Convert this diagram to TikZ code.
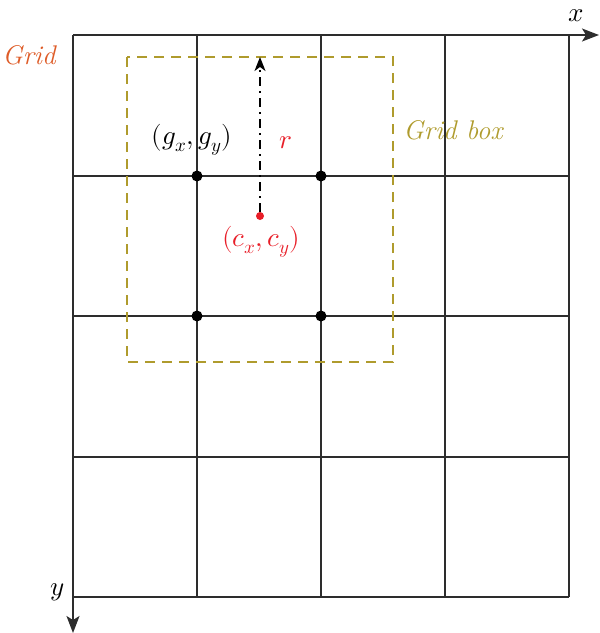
\documentclass[tikz,border=0pt]{standalone}
\usepackage{unicode-math}
\usetikzlibrary{arrows.meta}
\definecolor{gridorange}{RGB}{222,92,40}
\definecolor{boxolive}{RGB}{175,155,45}
\definecolor{cred}{RGB}{232,30,40}
\definecolor{linegray}{RGB}{45,45,45}
\begin{document}
\begin{tikzpicture}[x=1pt,y=-1pt,
  gridline/.style={draw=linegray,line width=1.4pt},
  axisarrow/.style={gridline,-{Stealth[length=17pt,width=13pt,inset=4pt]}},
  boxline/.style={draw=boxolive,line width=1.5pt,dash pattern=on 10pt off 7pt},
  rarrow/.style={draw=black,line width=1.5pt,dash pattern=on 9pt off 5pt on 2pt off 5pt,-{Stealth[length=14pt,width=11pt,inset=4pt]}},
  gpt/.style={circle,fill=black,inner sep=0pt,minimum size=11pt},
  cpt/.style={circle,fill=cred,inner sep=0pt,minimum size=8pt},
  lbl/.style={inner sep=0pt,font=\fontsize{27}{32}\selectfont}]
\useasboundingbox (0,0) rectangle (600,633);
% grid lines
\foreach \xx in {197,321,445,569} \draw[gridline] (\xx,35) -- (\xx,597);
\foreach \yy in {176,316,457,597} \draw[gridline] (73,\yy) -- (569,\yy);
\coordinate (o) at (73,35);
\coordinate (xe) at (599,35);
\coordinate (ye) at (73,633);
\draw[axisarrow] (o) -- (xe);
\draw[axisarrow] (o) -- (ye);
% grid box
\draw[boxline] (127,57) rectangle (393,362);
% points
\node[gpt] (g1) at (197,176) {};
\node[gpt] (g2) at (321,176) {};
\node[gpt] (g3) at (197,316) {};
\node[gpt] (g4) at (321,316) {};
\node[cpt] (c) at (260,216) {};
\coordinate (rtop) at (260,57);
\draw[rarrow] (c) -- (rtop);
% labels
\node[lbl,text=gridorange] (tgrid) at (29,55) {\itshape Grid};
\node[lbl,text=boxolive] (tbox) at (453,130) {\itshape Grid box};
\node[lbl] (tg) at (192,140) {$(g_x, g_y)$};
\node[lbl,text=cred] (tr) at (286,143) {$r$};
\node[lbl,text=cred] (tc) at (261,242) {$(c_x, c_y)$};
\node[lbl] (tx) at (576,16) {$x$};
\node[lbl] (ty) at (57,592) {$y$};
\end{tikzpicture}
\end{document}
